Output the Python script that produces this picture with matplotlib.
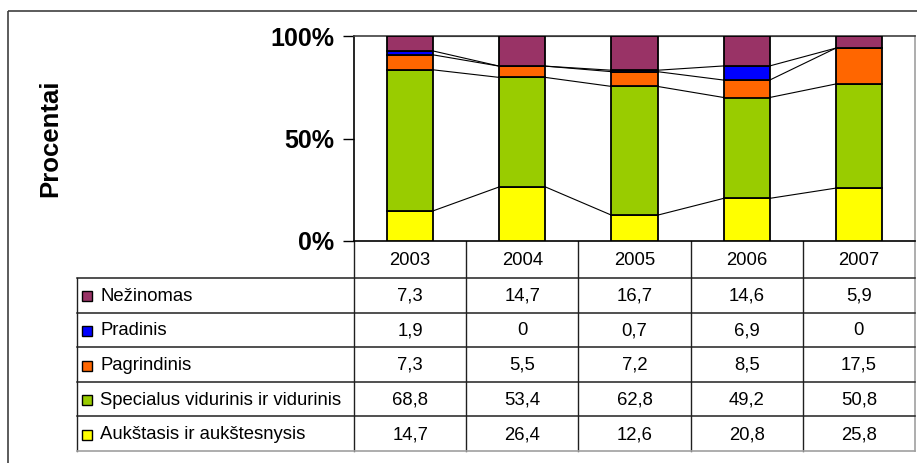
import matplotlib
matplotlib.use("Agg")
import matplotlib.pyplot as plt
import numpy as np
from matplotlib.patches import Rectangle

plt.rcParams['font.family'] = ['Liberation Sans', 'DejaVu Sans']

years = ["2003", "2004", "2005", "2006", "2007"]
# bottom -> top stacking order
series_names = ["Aukštasis ir aukštesnysis", "Specialus vidurinis ir vidurinis",
                "Pagrindinis", "Pradinis", "Nežinomas"]
aukstasis = [14.7, 26.4, 12.6, 20.8, 25.8]
specialus = [68.8, 53.4, 62.8, 49.2, 50.8]
pagrindinis = [7.3, 5.5, 7.2, 8.5, 17.5]
pradinis = [1.9, 0, 0.7, 6.9, 0]
nezinomas = [7.3, 14.7, 16.7, 14.6, 5.9]
colors = ["#FFFF00", "#99CC00", "#FF6600", "#0000FF", "#993366"]
yticks = [0, 50, 100]
ytick_labels = ["0%", "50%", "100%"]

W, H = 917, 463
fig = plt.figure(figsize=(W / 100, H / 100), dpi=100)

def fr(x0, y0, x1, y1):
    return [x0 / W, 1 - y1 / H, (x1 - x0) / W, (y1 - y0) / H]

# background/table overlay axes in pixel coordinates
bg = fig.add_axes([0, 0, 1, 1])
bg.set_xlim(0, W)
bg.set_ylim(H, 0)
bg.axis('off')
bg.add_patch(Rectangle((8, 11), W + 20, H + 20, fill=False, ec="#404040", lw=1.2))

# main plot
PL, PT, PR, PB = 354, 36, 915, 241
ax = fig.add_axes(fr(PL, PT, PR, PB))
data = np.array([aukstasis, specialus, pagrindinis, pradinis, nezinomas], dtype=float)
pct = data / data.sum(axis=0) * 100
x = np.arange(len(years))
bw = 0.41
bottom = np.zeros(len(years))
for i in range(len(series_names)):
    ax.bar(x, pct[i], bw, bottom=bottom, color=colors[i], edgecolor="black", lw=1.3, zorder=3)
    bottom = bottom + pct[i]
    # series lines
    for j in range(len(years) - 1):
        ax.plot([x[j] + bw / 2, x[j + 1] - bw / 2], [bottom[j], bottom[j + 1]],
                color="black", lw=0.8, zorder=2)
ax.set_xlim(-0.5, len(years) - 0.5)
ax.set_ylim(0, 100)
ax.set_yticks(yticks)
ax.set_yticklabels(ytick_labels, fontsize=18, fontweight='bold')
ax.tick_params(axis='y', length=8, width=1, pad=6)
ax.set_xticks([])
for s in ['left', 'bottom']:
    ax.spines[s].set_color('black')
    ax.spines[s].set_linewidth(1.2)
ax.spines['top'].set_color('#404040')
ax.spines['top'].set_linewidth(1.2)
ax.spines['right'].set_color('#A0A0A0')
ax.spines['right'].set_linewidth(1.2)

fig.text(50 / W, 1 - 138 / H, "Procentai", rotation=90, fontsize=18.5,
         fontweight='bold', ha='center', va='center')

# table
TL, TR = 77, 915
col_edges = np.linspace(PL, PR, len(years) + 1)
header_top, header_bot = 241, 278
row_edges = np.linspace(header_bot, 451, len(series_names) + 1)
lc = "#202020"
fs = 13.3
for ce in col_edges[:-1]:
    bg.plot([ce, ce], [header_top, 451], color=lc, lw=1)
bg.plot([PR, PR], [header_top, 451], color="#A0A0A0", lw=1.2)
bg.plot([TL, TL], [header_bot, 451], color=lc, lw=1)
for k, re in enumerate(row_edges):
    c = "#A0A0A0" if k == len(row_edges) - 1 else lc
    bg.plot([TL, TR], [re, re], color=c, lw=1.1 if k < len(row_edges) - 1 else 1.2)
for j, yr in enumerate(years):
    bg.text((col_edges[j] + col_edges[j + 1]) / 2, (header_top + header_bot) / 2 + 1, yr,
            ha='center', va='center', fontsize=fs)
table_rows = list(range(len(series_names)))[::-1]  # top row = Nežinomas
for r, si in enumerate(table_rows):
    yc = (row_edges[r] + row_edges[r + 1]) / 2
    bg.add_patch(Rectangle((82, yc - 4), 10, 10, fc=colors[si], ec="black", lw=1))
    bg.text(100, yc + 1, series_names[si], ha='left', va='center', fontsize=fs)
    for j in range(len(years)):
        v = data[si][j]
        s = ("%g" % v).replace('.', ',')
        bg.text((col_edges[j] + col_edges[j + 1]) / 2, yc + 1, s,
                ha='center', va='center', fontsize=fs)

fig.savefig("out.png", dpi=100)
